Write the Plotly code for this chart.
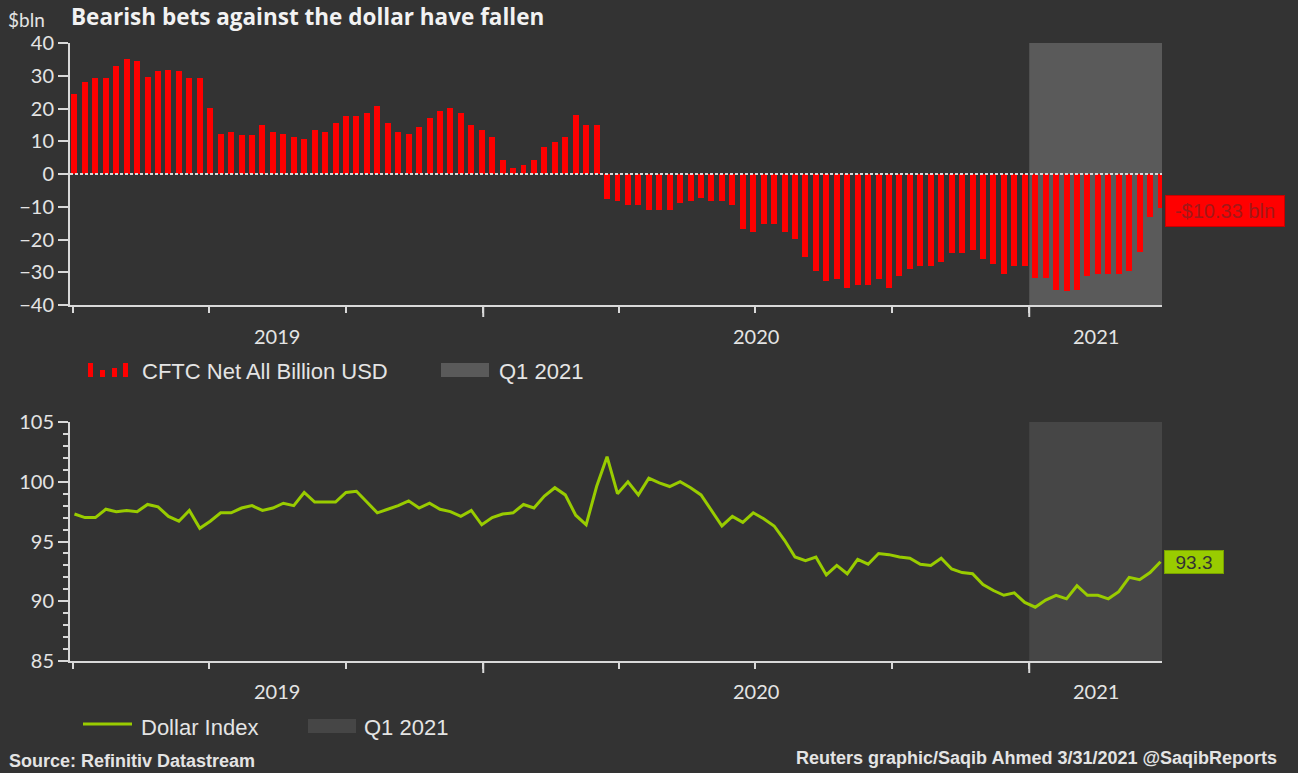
import pandas as pd
import plotly.graph_objects as go

# ---------------------------------------------------------------------------
# Data: weekly observations (Tuesdays), April 2019 - March 2021
# ---------------------------------------------------------------------------
first_week = "2019-04-02"
n_weeks = 105
dates = pd.date_range(first_week, periods=n_weeks, freq="7D")

# CFTC net position against the dollar, $ billion
cftc_net_bln = [
    24.4, 28.2, 29.2, 29.2, 32.9, 35.0, 34.5, 29.7, 31.3, 31.9,
    31.3, 29.2, 29.2, 20.3, 12.3, 12.8, 11.8, 11.8, 14.9, 12.8,
    12.3, 11.3, 10.8, 13.3, 12.8, 15.5, 17.6, 17.6, 18.6, 20.8,
    15.5, 12.8, 12.3, 14.5, 17.1, 19.1, 20.3, 18.6, 15.0, 13.3,
    11.3, 4.4, 1.7, 2.8, 4.4, 8.1, 9.7, 11.3, 18.1, 15.0,
    15.0, -7.6, -8.3, -9.4, -9.4, -11.0, -11.0, -11.0, -8.8, -8.3,
    -7.2, -8.3, -8.3, -9.4, -16.8, -17.8, -15.2, -15.2, -17.8, -19.9,
    -25.3, -29.5, -32.7, -32.2, -34.8, -33.8, -33.8, -32.2, -34.8, -31.1,
    -29.0, -28.0, -28.0, -27.0, -24.2, -24.2, -23.1, -25.8, -27.4, -30.5,
    -28.0, -28.0, -31.7, -31.7, -35.3, -35.8, -35.3, -31.1, -30.6, -30.6,
    -30.6, -29.5, -23.7, -13.0, -10.33,
]

# ICE dollar index
dollar_index = [
    97.3, 97.0, 97.0, 97.7, 97.5, 97.6, 97.5, 98.1, 97.9, 97.1,
    96.7, 97.6, 96.1, 96.7, 97.4, 97.4, 97.8, 98.0, 97.6, 97.8,
    98.2, 98.0, 99.1, 98.3, 98.3, 98.3, 99.1, 99.2, 98.3, 97.4,
    97.7, 98.0, 98.4, 97.8, 98.2, 97.7, 97.5, 97.1, 97.6, 96.4,
    97.0, 97.3, 97.4, 98.1, 97.8, 98.8, 99.5, 98.9, 97.2, 96.4,
    99.6, 102.1, 99.0, 100.0, 98.9, 100.3, 99.9, 99.6, 100.0, 99.5,
    98.9, 97.6, 96.3, 97.1, 96.6, 97.4, 96.9, 96.3, 95.1, 93.7,
    93.4, 93.7, 92.2, 93.0, 92.3, 93.5, 93.1, 94.0, 93.9, 93.7,
    93.6, 93.1, 93.0, 93.6, 92.7, 92.4, 92.3, 91.4, 90.9, 90.5,
    90.7, 89.9, 89.5, 90.1, 90.5, 90.2, 91.3, 90.5, 90.5, 90.2,
    90.8, 92.0, 91.8, 92.4, 93.3,
]

x_range = ["2019-03-30", "2021-03-31"]
q1_2021 = ["2021-01-01", "2021-03-31"]
year_starts = ["2019-01-01", "2020-01-01", "2021-01-01", "2022-01-01"]
year_labels = ["2019", "2020", "2021"]

title_text = "Bearish bets against the dollar have fallen"
unit_text = "$bln"
cftc_name = "CFTC Net All Billion USD"
dxy_name = "Dollar Index"
shade_name = "Q1 2021"
source_text = "Source: Refinitiv Datastream"
credit_text = "Reuters graphic/Saqib Ahmed 3/31/2021 @SaqibReports"

# ---------------------------------------------------------------------------
# Styling / geometry (pixels)
# ---------------------------------------------------------------------------
W, H = 1298, 773
PL, PR = 70, 1162          # plot left / right
TOP_T, TOP_B = 43, 305     # upper panel top / bottom
BOT_T, BOT_B = 422, 661    # lower panel top / bottom
PW = PR - PL
PH = BOT_B - TOP_T

BG = "#333333"
AX = "#d9d9d9"
TXT = "#e4e4e4"
RED = "#ff0000"
GREEN = "#99cc00"
SHADE_TOP = "#5a5a5a"
SHADE_BOT = "#464646"
LATO = "Lato, Carlito, Calibri, sans-serif"
TITLE_FONT = "Open Sans, Lato, sans-serif"
ARIAL = "Liberation Sans, Arial, sans-serif"
BAR_WIDTH_MS = 4.0 * 24 * 3600 * 1000


def px_x(px):
    return (px - PL) / PW


def px_y(py):
    return (BOT_B - py) / PH


top_domain = [px_y(TOP_B), 1.0]
bot_domain = [0.0, px_y(BOT_T)]

fig = go.Figure()

fig.add_trace(go.Bar(
    x=dates, y=cftc_net_bln, width=BAR_WIDTH_MS,
    marker=dict(color=RED, line=dict(width=0)),
    name=cftc_name, xaxis="x", yaxis="y", showlegend=False,
))
fig.add_trace(go.Scatter(
    x=dates, y=dollar_index, mode="lines",
    line=dict(color=GREEN, width=3),
    name=dxy_name, xaxis="x2", yaxis="y2", showlegend=False,
))

xaxis_common = dict(
    type="date", range=x_range, showgrid=False, zeroline=False,
    showline=True, linecolor=AX, linewidth=2,
    ticks="outside", tickmode="linear", tick0="2019-01-01", dtick="M3",
    ticklen=6, tickwidth=2, tickcolor=AX, showticklabels=False,
)
yaxis_common = dict(
    showgrid=False, zeroline=False, showline=True, linecolor=AX, linewidth=2,
    ticks="outside", ticklen=10, tickwidth=2, tickcolor=AX,
    tickfont=dict(family=LATO, size=20, color=TXT),
)

fig.update_layout(
    width=W, height=H,
    margin=dict(l=PL, r=W - PR, t=TOP_T, b=H - BOT_B, pad=0),
    paper_bgcolor=BG, plot_bgcolor=BG,
    showlegend=False, bargap=0,
    xaxis=dict(domain=[0, 1], anchor="y", **xaxis_common),
    yaxis=dict(domain=top_domain, anchor="x", range=[-40, 40],
               tickmode="linear", tick0=0, dtick=10, **yaxis_common),
    xaxis2=dict(domain=[0, 1], anchor="y2", matches="x", **xaxis_common),
    yaxis2=dict(domain=bot_domain, anchor="x2", range=[85, 105],
                tickmode="linear", tick0=85, dtick=5,
                minor=dict(ticks="outside", dtick=1, ticklen=5, tickwidth=2, tickcolor=AX),
                **yaxis_common),
)

shapes = []
# Q1 2021 highlight in both panels
shapes.append(dict(type="rect", xref="x", yref="y domain", x0=q1_2021[0], x1=q1_2021[1],
                   y0=0, y1=1, fillcolor=SHADE_TOP, line=dict(width=0), layer="below"))
shapes.append(dict(type="rect", xref="x2", yref="y2 domain", x0=q1_2021[0], x1=q1_2021[1],
                   y0=0, y1=1, fillcolor=SHADE_BOT, line=dict(width=0), layer="below"))
# dashed zero line over the bars
shapes.append(dict(type="line", xref="x domain", yref="y", x0=0, x1=1, y0=0, y1=0,
                   line=dict(color="#d8d8d8", width=2, dash="3px,2px"), layer="above"))
# longer tick marks at year boundaries
for ys in year_starts:
    if x_range[0] < ys < x_range[1]:
        shapes.append(dict(type="line", xref="x", yref="y domain", x0=ys, x1=ys,
                           y0=0, y1=-12 / (TOP_B - TOP_T), line=dict(color=AX, width=2)))
        shapes.append(dict(type="line", xref="x2", yref="y2 domain", x0=ys, x1=ys,
                           y0=0, y1=-12 / (BOT_B - BOT_T), line=dict(color=AX, width=2)))

# legend swatches
for (x0, x1, y0, y1) in [(88, 93, 363, 377), (100, 105, 370, 377),
                         (112, 117, 368, 377), (123, 128, 363, 377)]:
    shapes.append(dict(type="rect", xref="paper", yref="paper",
                       x0=px_x(x0), x1=px_x(x1), y0=px_y(y1), y1=px_y(y0),
                       fillcolor=RED, line=dict(width=0)))
shapes.append(dict(type="rect", xref="paper", yref="paper",
                   x0=px_x(441), x1=px_x(489), y0=px_y(377), y1=px_y(363),
                   fillcolor=SHADE_TOP, line=dict(width=0)))
shapes.append(dict(type="line", xref="paper", yref="paper",
                   x0=px_x(83), x1=px_x(132), y0=px_y(724), y1=px_y(724),
                   line=dict(color=GREEN, width=3)))
shapes.append(dict(type="rect", xref="paper", yref="paper",
                   x0=px_x(308), x1=px_x(356), y0=px_y(733), y1=px_y(719),
                   fillcolor=SHADE_BOT, line=dict(width=0)))
fig.update_layout(shapes=shapes)

ann = []


def text(x, y, s, size, family=ARIAL, color=TXT, xanchor="left", bold=False,
         yanchor="middle", pad=1):
    ann.append(dict(xref="paper", yref="paper", x=px_x(x), y=px_y(y),
                    text=f"<b>{s}</b>" if bold else s, showarrow=False,
                    xanchor=xanchor, yanchor=yanchor, borderpad=pad,
                    font=dict(family=family, size=size, color=color)))


# headline sits flush with the top edge of the page
text(70, 0, title_text, 22.5, family=TITLE_FONT, color="#f2f2f2", bold=True,
     yanchor="top", pad=0)
text(6, 19, unit_text, 19, family=LATO)

# year labels centred on the visible part of each year
lo, hi = pd.Timestamp(x_range[0]), pd.Timestamp(x_range[1])
for i, lab in enumerate(year_labels):
    a = max(lo, pd.Timestamp(year_starts[i]))
    b = min(hi, pd.Timestamp(year_starts[i + 1]))
    mid = a + (b - a) / 2
    for xr, py in (("x", 336), ("x2", 691)):
        ann.append(dict(xref=xr, yref="paper", x=mid, y=px_y(py), text=lab,
                        showarrow=False, xanchor="center", yanchor="middle",
                        font=dict(family=LATO, size=20, color=TXT)))

# end-of-series value labels
last_cftc = cftc_net_bln[-1]
ann.append(dict(xref="x", yref="y", x=dates[-1], y=last_cftc,
                text=f"-${abs(last_cftc):.2f} bln", showarrow=False,
                xanchor="left", yanchor="middle", xshift=4, yshift=-3,
                bgcolor=RED, bordercolor="#c80000", borderwidth=1, borderpad=3,
                width=112, height=24,
                font=dict(family=ARIAL, size=20, color="#a31818")))
last_dxy = dollar_index[-1]
ann.append(dict(xref="x2", yref="y2", x=dates[-1], y=last_dxy,
                text=f"{last_dxy:.1f}", showarrow=False,
                xanchor="left", yanchor="middle", xshift=3,
                bgcolor=GREEN, bordercolor="#78a000", borderwidth=1, borderpad=3,
                width=52, height=16,
                font=dict(family=ARIAL, size=19, color="#333333")))

# legends
text(140, 371, cftc_name, 22)
text(497, 371, shade_name, 22)
text(139, 727, dxy_name, 22)
text(362, 727, shade_name, 22)

# footer
text(7, 761, source_text, 18, bold=True)
text(1279, 758, credit_text, 18, xanchor="right", bold=True)

fig.update_layout(annotations=ann)

fig.write_html("out.html", config={"displayModeBar": False})
